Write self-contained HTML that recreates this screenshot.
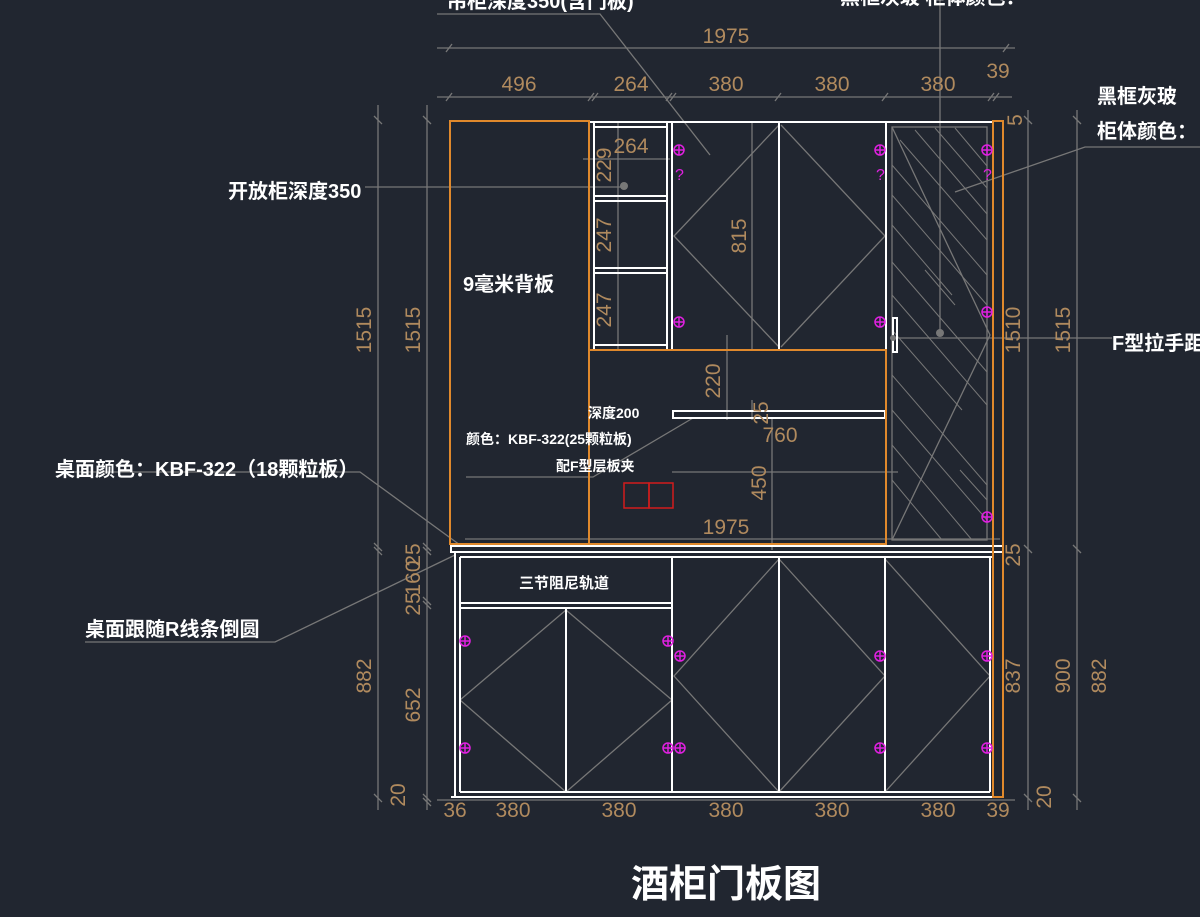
<!DOCTYPE html>
<html><head><meta charset="utf-8"><style>
html,body{margin:0;padding:0;background:#212630;}
svg{display:block}
.d{font-family:"Liberation Sans",sans-serif;font-size:21px;fill:#b08a5e;}
.w{font-family:"Liberation Sans","Noto Sans CJK SC",sans-serif;font-weight:bold;fill:#fff;}
</style></head><body>
<svg width="1200" height="917" viewBox="0 0 1200 917" xmlns="http://www.w3.org/2000/svg">
<defs><g id="m" stroke="#e020e0" stroke-width="1.5" fill="none"><circle r="5"/><path d="M-5 0h10M0-5v10"/></g></defs>
<rect width="1200" height="917" fill="#212630"/>
<g stroke="#777" stroke-width="1.3" fill="none">
<line x1="437" y1="48" x2="1015" y2="48"/>
<line x1="437" y1="97" x2="1012" y2="97"/>
<path d="M446 52l6-8M1003 52l6-8M446 101l6-8M588 101l6-8M592 101l6-8M666 101l6-8M670 101l6-8M775 101l6-8M882 101l6-8M988 101l6-8M993 101l6-8"/>
<line x1="378" y1="105" x2="378" y2="810"/>
<line x1="427" y1="105" x2="427" y2="810"/>
<path d="M374 116l8 8M423 116l8 8M374 543l8 8M374 547l8 8M423 543l8 8M423 547l8 8M423 597l8 8M423 601l8 8M374 794l8 8M423 794l8 8M423 798l8 8"/>
<line x1="1028" y1="110" x2="1028" y2="810"/>
<line x1="1077" y1="110" x2="1077" y2="810"/>
<path d="M1024 116l8 8M1073 116l8 8M1024 545l8 8M1073 545l8 8M1024 794l8 8M1073 794l8 8"/>
<line x1="437" y1="800" x2="1015" y2="800"/>
<polyline points="437,14 600,14 710,155"/>
<line x1="365" y1="187" x2="622" y2="187"/>
<line x1="940" y1="0" x2="940" y2="333"/>
<polyline points="1200,147 1085,147 955,192"/>
<line x1="893" y1="338" x2="1112" y2="338"/>
<polyline points="55,472 360,472 460,545"/>
<polyline points="85,642 275,642 455,555"/>
<polyline points="466,477 593,477 693,418"/>
<line x1="618" y1="122" x2="618" y2="350"/>
<line x1="583" y1="159" x2="670" y2="159"/>
<line x1="727" y1="335" x2="727" y2="420"/>
<line x1="752" y1="400" x2="752" y2="420"/>
<line x1="672" y1="472" x2="898" y2="472"/>
<line x1="772" y1="418" x2="772" y2="550"/>
<line x1="465" y1="539" x2="1000" y2="539"/>
<line x1="752" y1="122" x2="752" y2="350"/>
<polyline points="779,125 674,236 779,347"/>
<polyline points="781,125 885,236 781,347"/>
<rect x="892" y="127" width="95" height="413"/>
<polyline points="892,127 990,335 892,540"/>
<g stroke-width="1">
<path d="M900 140l87 100M915 130l72 84M935 128l52 60M955 128l32 38M892 165l95 110M892 195l95 110M892 225l60 70M892 262l95 110M892 295l95 110M892 330l70 80M892 375l95 110M892 410l95 110M892 445l80 95M892 480l50 60M925 270l30 35M960 470l27 30"/>
</g>
<polyline points="566,610 460,700 566,792"/>
<polyline points="566,610 672,700 566,792"/>
<polyline points="779,559 674,676 779,792"/>
<polyline points="779,559 885,676 779,792"/>
<polyline points="885,559 990,676 885,792"/>
</g>
<g stroke="#fff" stroke-width="2" fill="none">
<line x1="589" y1="122" x2="993" y2="122"/>
<line x1="594" y1="127" x2="667" y2="127"/>
<line x1="594" y1="122" x2="594" y2="350"/>
<line x1="667" y1="122" x2="667" y2="350"/>
<line x1="672" y1="122" x2="672" y2="350"/>
<path d="M594 196H667M594 201H667M594 268H667M594 273H667M594 345H667"/>
<line x1="779" y1="122" x2="779" y2="350"/>
<line x1="886" y1="122" x2="886" y2="544"/>
<rect x="673" y="411" width="212" height="7"/>
<rect x="451" y="546" width="552" height="6"/>
<line x1="455" y1="552" x2="455" y2="797"/>
<line x1="460" y1="557" x2="460" y2="792"/>
<line x1="460" y1="557" x2="993" y2="557"/>
<line x1="460" y1="603" x2="672" y2="603"/>
<line x1="460" y1="608" x2="672" y2="608"/>
<line x1="566" y1="608" x2="566" y2="792"/>
<line x1="672" y1="557" x2="672" y2="792"/>
<line x1="779" y1="557" x2="779" y2="792"/>
<line x1="885" y1="557" x2="885" y2="792"/>
<line x1="990" y1="557" x2="990" y2="792"/>
<line x1="460" y1="792" x2="990" y2="792"/>
<line x1="451" y1="797" x2="993" y2="797"/>
<rect x="893" y="318" width="4" height="34"/>
</g>
<g stroke="#e0892c" stroke-width="2" fill="none">
<rect x="450" y="121" width="139" height="423"/>
<rect x="589" y="350" width="297" height="194"/>
<line x1="450" y1="544" x2="886" y2="544"/>
<rect x="993" y="121" width="10" height="676"/>
</g>
<rect x="624" y="483" width="25" height="25" fill="none" stroke="#d21c1c" stroke-width="1.5"/>
<rect x="649" y="483" width="24" height="25" fill="none" stroke="#d21c1c" stroke-width="1.5"/>
<g fill="#777"><circle cx="624" cy="186" r="4"/><circle cx="940" cy="333" r="4"/><circle cx="893" cy="338" r="3"/></g>
<use href="#m" x="679" y="150"/><use href="#m" x="880" y="150"/><use href="#m" x="987" y="150"/>
<use href="#m" x="679" y="322"/><use href="#m" x="880" y="322"/><use href="#m" x="987" y="312"/><use href="#m" x="987" y="517"/>
<use href="#m" x="465" y="641"/><use href="#m" x="668" y="641"/><use href="#m" x="680" y="656"/><use href="#m" x="880" y="656"/><use href="#m" x="987" y="656"/>
<use href="#m" x="465" y="748"/><use href="#m" x="668" y="748"/><use href="#m" x="680" y="748"/><use href="#m" x="880" y="748"/><use href="#m" x="987" y="748"/>
<g font-family="Liberation Sans,sans-serif" font-size="16" fill="#e020e0"><text x="675" y="180">?</text><text x="876" y="180">?</text><text x="983" y="180">?</text></g>
<g class="d">
<text x="726" y="43" text-anchor="middle">1975</text>
<text x="519" y="91" text-anchor="middle">496</text>
<text x="631" y="91" text-anchor="middle">264</text>
<text x="726" y="91" text-anchor="middle">380</text>
<text x="832" y="91" text-anchor="middle">380</text>
<text x="938" y="91" text-anchor="middle">380</text>
<text x="998" y="78" text-anchor="middle">39</text>
<text x="631" y="153" text-anchor="middle">264</text>
<text x="780" y="442" text-anchor="middle">760</text>
<text x="726" y="534" text-anchor="middle">1975</text>
<text x="455" y="817" text-anchor="middle">36</text>
<text x="513" y="817" text-anchor="middle">380</text>
<text x="619" y="817" text-anchor="middle">380</text>
<text x="726" y="817" text-anchor="middle">380</text>
<text x="832" y="817" text-anchor="middle">380</text>
<text x="938" y="817" text-anchor="middle">380</text>
<text x="998" y="817" text-anchor="middle">39</text>
<g text-anchor="middle">
<text transform="translate(371,330) rotate(-90)">1515</text>
<text transform="translate(420,330) rotate(-90)">1515</text>
<text transform="translate(371,676) rotate(-90)">882</text>
<text transform="translate(420,705) rotate(-90)">652</text>
<text transform="translate(420,555) rotate(-90)">25</text>
<text transform="translate(420,578) rotate(-90)">160</text>
<text transform="translate(420,604) rotate(-90)">25</text>
<text transform="translate(405,795) rotate(-90)">20</text>
<text transform="translate(611,165) rotate(-90)">229</text>
<text transform="translate(611,235) rotate(-90)">247</text>
<text transform="translate(611,310) rotate(-90)">247</text>
<text transform="translate(746,236) rotate(-90)">815</text>
<text transform="translate(720,381) rotate(-90)">220</text>
<text transform="translate(768,413) rotate(-90)">25</text>
<text transform="translate(766,483) rotate(-90)">450</text>
<text transform="translate(1022,120) rotate(-90)">5</text>
<text transform="translate(1020,330) rotate(-90)">1510</text>
<text transform="translate(1070,330) rotate(-90)">1515</text>
<text transform="translate(1020,555) rotate(-90)">25</text>
<text transform="translate(1020,676) rotate(-90)">837</text>
<text transform="translate(1070,676) rotate(-90)">900</text>
<text transform="translate(1106,676) rotate(-90)">882</text>
<text transform="translate(1051,797) rotate(-90)">20</text>
</g>
</g>
<g class="w" font-size="20">
<text x="447" y="8">吊柜深度350(含门板)</text>
<text x="840" y="4">黑框灰玻  柜体颜色：</text>
<text x="228" y="198">开放柜深度350</text>
<text x="463" y="291">9毫米背板</text>
<text x="55" y="476">桌面颜色：KBF-322（18颗粒板）</text>
<text x="85" y="636">桌面跟随R线条倒圆</text>
<text x="1097" y="103">黑框灰玻</text>
<text x="1097" y="138">柜体颜色：</text>
<text x="1112" y="350">F型拉手距</text>
</g>
<g class="w" font-size="14">
<text x="588" y="418">深度200</text>
<text x="466" y="444">颜色：KBF-322(25颗粒板)</text>
<text x="556" y="471">配F型层板夹</text>
<text x="519" y="588" font-size="15">三节阻尼轨道</text>
</g>
<text x="726" y="897" text-anchor="middle" class="w" font-size="38">酒柜门板图</text>
</svg>
</body></html>
